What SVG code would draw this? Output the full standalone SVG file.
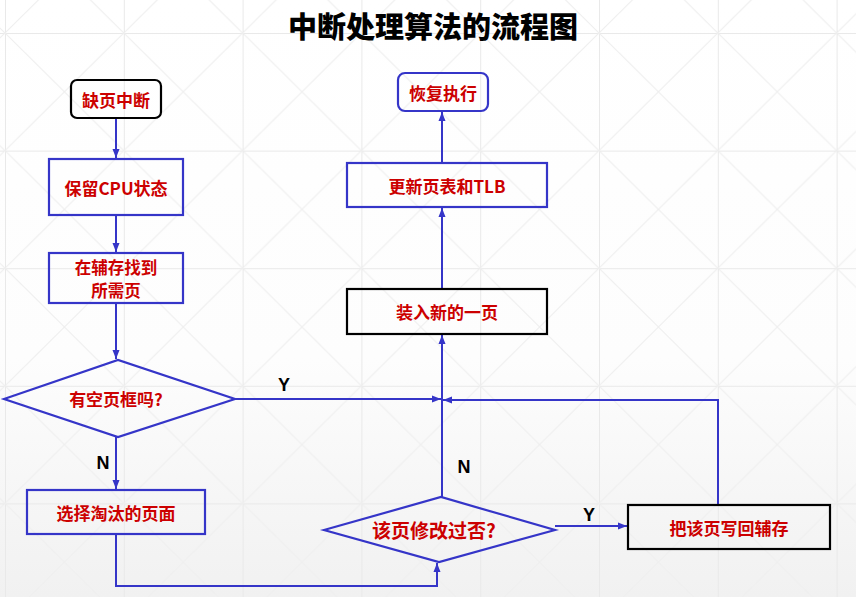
<svg xmlns="http://www.w3.org/2000/svg" width="856" height="597" viewBox="0 0 856 597">
<style>
.box{fill:none;stroke:#3535c8;stroke-width:2.2}
.bbox{fill:none;stroke:#000;stroke-width:2.2}
.t{font-family:"Noto Sans CJK SC","Noto Sans",sans-serif;font-weight:bold;font-size:17px;fill:#cc0000;text-anchor:middle;dominant-baseline:central}
.lbl{font-family:"Liberation Sans",Arial,sans-serif;font-weight:bold;font-size:18px;fill:#000;text-anchor:middle;dominant-baseline:central}
.c{fill:none;stroke:#3535c8;stroke-width:2}
</style>
<defs>
<linearGradient id="bg" x1="0" y1="0" x2="0" y2="1">
<stop offset="0" stop-color="#ffffff"/>
<stop offset="0.6" stop-color="#fdfdfd"/>
<stop offset="1" stop-color="#f1f1f1"/>
</linearGradient>
<pattern id="grid" patternUnits="userSpaceOnUse" x="5" y="33" width="118.8" height="117.6">
<path d="M0,0 L118.8,0 M0,0 L0,117.6" stroke="#e9e9e9" stroke-width="2" fill="none"/>
<path d="M0,0 L118.8,117.6 M118.8,0 L0,117.6" stroke="#efefef" stroke-width="1.2" fill="none"/>
</pattern>
<marker id="ah" markerUnits="userSpaceOnUse" markerWidth="10" markerHeight="8" refX="9" refY="4" orient="auto">
<path d="M0,0.5 L9,4 L0,7.5 z" fill="#3535c8"/>
</marker>
</defs>
<rect x="0" y="0" width="856" height="597" fill="url(#bg)"/>
<rect x="0" y="0" width="856" height="597" fill="url(#grid)"/>
<text x="433" y="25" style="font-family:'Noto Sans CJK SC','Noto Sans',sans-serif;font-weight:900;font-size:29px;fill:#000;text-anchor:middle;dominant-baseline:central">中断处理算法的流程图</text>
<g id="connectors">
<path class="c" d="M116,118 L116,158" marker-end="url(#ah)"/>
<path class="c" d="M116,215 L116,252" marker-end="url(#ah)"/>
<path class="c" d="M116,303 L116,359" marker-end="url(#ah)"/>
<path class="c" d="M235,399 L441,399" marker-end="url(#ah)"/>
<path class="c" d="M116,437 L116,489" marker-end="url(#ah)"/>
<path class="c" d="M116,534 L116,586 L437,586 L437,563" marker-end="url(#ah)"/>
<path class="c" d="M442,497 L442,335" marker-end="url(#ah)"/>
<path class="c" d="M555,526 L627,526" marker-end="url(#ah)"/>
<path class="c" d="M718,505 L718,400 L443,400" marker-end="url(#ah)"/>
<path class="c" d="M442,289 L442,208" marker-end="url(#ah)"/>
<path class="c" d="M442,163 L442,112" marker-end="url(#ah)"/>
<text class="lbl" x="284" y="385">Y</text>
<text class="lbl" x="103" y="463">N</text>
<text class="lbl" x="464" y="467">N</text>
<text class="lbl" x="589" y="515">Y</text>
</g>
<g id="n1"><rect class="bbox" x="71" y="80" width="90" height="38" rx="6"/><text class="t" x="116" y="99">缺页中断</text></g>
<g id="n2"><rect class="box" x="49" y="159" width="134" height="56"/><text class="t" x="116" y="187">保留CPU状态</text></g>
<g id="n3"><rect class="box" x="49" y="253" width="134" height="50"/><text class="t" x="116" y="267" style="font-size:16.5px">在辅存找到</text><text class="t" x="116" y="290" style="font-size:16.5px">所需页</text></g>
<g id="n4"><polygon class="box" points="4,399 118,360 235,399 118,437"/><text class="t" x="116" y="398">有空页框吗?</text></g>
<g id="n5"><rect class="box" x="27" y="490" width="178" height="44"/><text class="t" x="116" y="512">选择淘汰的页面</text></g>
<g id="n6"><polygon class="box" points="324,530 441,497 555,530 439,562"/><text class="t" x="434" y="529" style="font-size:19px">该页修改过否?</text></g>
<g id="n7"><rect class="bbox" x="628" y="505" width="202" height="44"/><text class="t" x="729" y="527">把该页写回辅存</text></g>
<g id="n8"><rect class="bbox" x="347" y="289" width="200" height="45"/><text class="t" x="447" y="311">装入新的一页</text></g>
<g id="n9"><rect class="box" x="347" y="163" width="200" height="44"/><text class="t" x="447" y="185">更新页表和TLB</text></g>
<g id="n10"><rect class="box" x="398" y="73" width="90" height="38" rx="7"/><text class="t" x="443" y="92">恢复执行</text></g>
</svg>
